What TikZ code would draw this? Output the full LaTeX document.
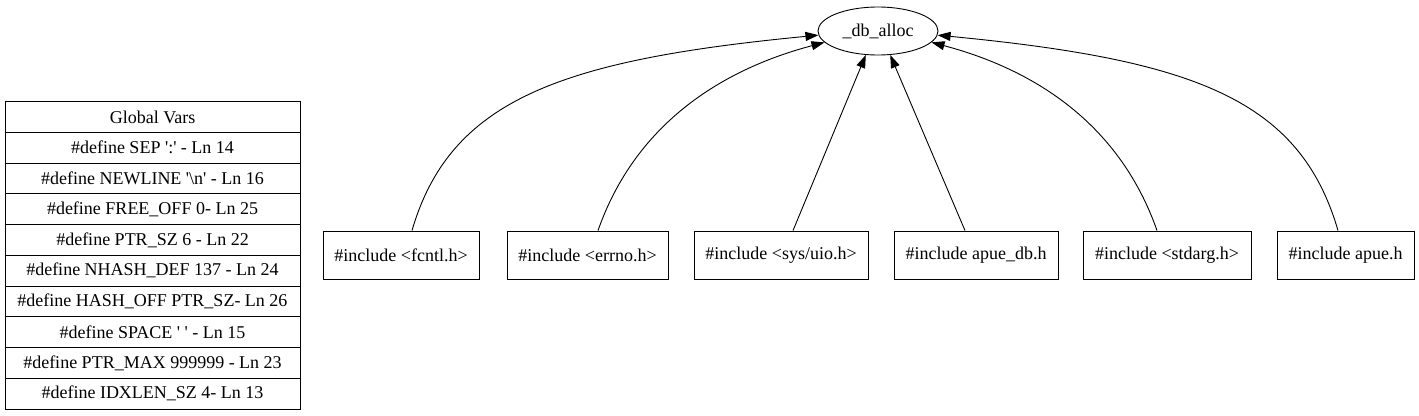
\documentclass[tikz,border=0pt]{standalone}
\usepackage{fontspec}
\setmainfont{Liberation Serif}
\usetikzlibrary{arrows.meta,shapes.geometric}
\newcommand{\sq}{\textquotesingle}
\begin{document}
\begin{tikzpicture}[x=1pt,y=-1pt,
  every node/.style={font=\fontsize{18}{20}\selectfont, inner sep=0pt},
  cell/.style={draw, line width=0.9pt, minimum width=295pt, minimum height=30.75pt},
  incbox/.style={draw, line width=0.9pt, minimum height=48pt},
  link/.style={line width=0.9pt, -{Triangle[length=13pt,width=9pt]}}]
\useasboundingbox (0,0) rectangle (1419,415);
% table
\foreach \t [count=\i from 0] in {Global Vars,
  {\#define SEP \sq:\sq{} - Ln 14},
  {\#define NEWLINE \sq\textbackslash n\sq{} - Ln 16},
  {\#define FREE\_OFF 0- Ln 25},
  {\#define PTR\_SZ 6 - Ln 22},
  {\#define NHASH\_DEF 137 - Ln 24},
  {\#define HASH\_OFF PTR\_SZ- Ln 26},
  {\#define SPACE \sq{} \sq{} - Ln 15},
  {\#define PTR\_MAX 999999 - Ln 23},
  {\#define IDXLEN\_SZ 4- Ln 13}}
  \node[cell] (g\i) at (152.5, 116.9+\i*30.75) {\t};
% ellipse
\node[draw, ellipse, line width=0.9pt, minimum width=120pt, minimum height=48pt] (e) at (878,31) {\_db\_alloc};
% boxes
\node[incbox, minimum width=156pt] (b1) at (401,255) {\#include <fcntl.h>};
\node[incbox, minimum width=161pt] (b2) at (587.5,255) {\#include <errno.h>};
\node[incbox, minimum width=174pt] (b3) at (781,255) {\#include <sys/uio.h>};
\node[incbox, minimum width=164pt] (b4) at (976,255) {\#include apue\_db.h};
\node[incbox, minimum width=168pt] (b5) at (1167,255) {\#include <stdarg.h>};
\node[incbox, minimum width=137pt] (b6) at (1345.5,255) {\#include apue.h};
% edges
\draw[link] ([xshift=11pt]b1.north) .. controls (450,100) and (560,60) .. (e.184);
\draw[link] ([xshift=10.5pt]b2.north) .. controls (635,125) and (720,70) .. (e.192);
\draw[link] ([xshift=12pt]b3.north) -- (e.243);
\draw[link] ([xshift=-11pt]b4.north) -- (e.297);
\draw[link] ([xshift=-10pt]b5.north) .. controls (1120,125) and (1036,70) .. (e.348);
\draw[link] ([xshift=-7.5pt]b6.north) .. controls (1300,100) and (1196,60) .. (e.356);
\end{tikzpicture}
\end{document}
